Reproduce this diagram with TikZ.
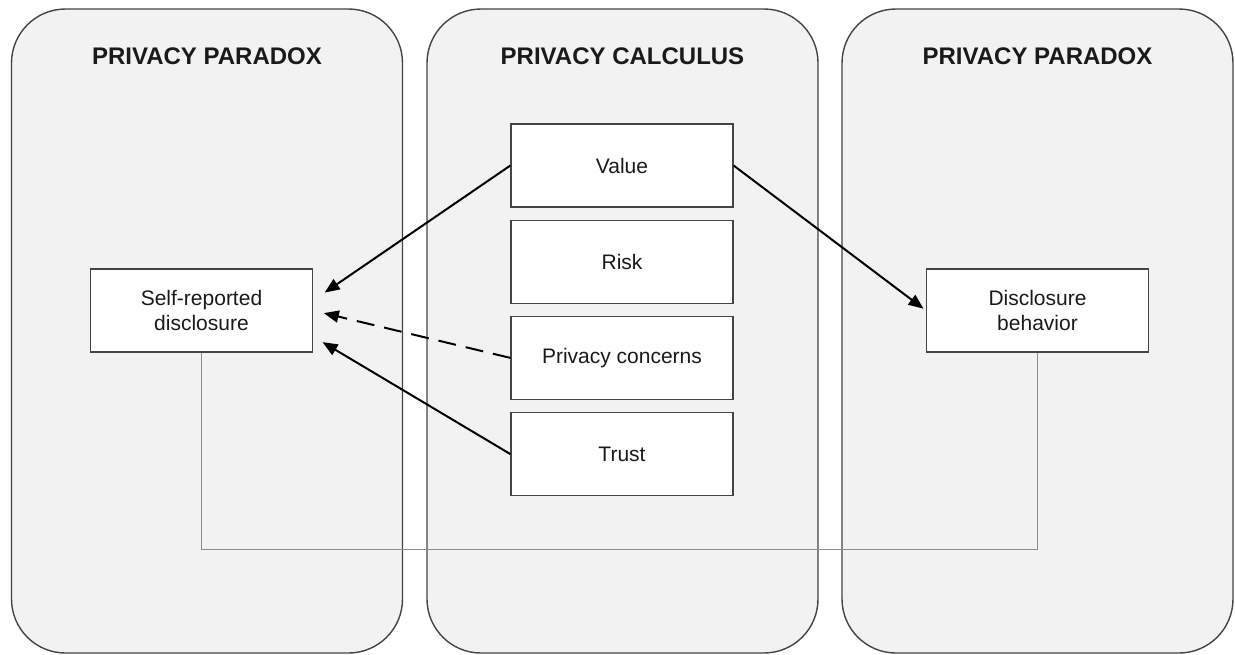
\documentclass[tikz,border=0pt]{standalone}
\usepackage{fontspec}
\setmainfont{Liberation Sans}
\usepackage{tikz}
\usetikzlibrary{
  arrows.meta,
  positioning,
  calc
}
\definecolor{FigText}{HTML}{1A1A1A}
\definecolor{FigPanel}{HTML}{F2F2F2}
\definecolor{FigBorder}{HTML}{444444}
\definecolor{FigLink}{HTML}{8C8C8C}

\begin{document}
\begin{tikzpicture}[
x=0.5pt, y=-0.5pt,
font=\fontsize{10.5}{12.5}\selectfont,
>={Triangle[length=7.5pt,width=6pt]},
panel/.style={
draw=FigBorder,
line width=0.7pt,
fill=FigPanel,
rounded corners=27pt,
minimum width=195.5pt,
minimum height=322pt,
inner sep=0pt
},
paneltitle/.style={
font=\fontsize{12}{14}\selectfont\bfseries
},
factorbox/.style={
draw=FigBorder,
line width=0.6pt,
fill=white,
minimum width=111pt,
minimum height=41.5pt,
inner sep=2pt,
align=center
},
arrowline/.style={
->,
line width=1pt
},
link/.style={
draw=FigLink,
line width=0.6pt
},
every node/.style={text=FigText}
]
\useasboundingbox (0,0) rectangle (1235,654);

% Panels
\node[panel] (pleft) at (207,331) {};
\node[panel] (pmid) at (622.5,331) {};
\node[panel] (pright) at (1037.5,331) {};

\node[paneltitle] (tleft) at (207,56) {PRIVACY PARADOX};
\node[paneltitle] (tmid) at (622.5,56) {PRIVACY CALCULUS};
\node[paneltitle] (tright) at (1037.5,56) {PRIVACY PARADOX};

% Privacy calculus factors
\node[factorbox] (value) at (622,165.5) {Value};
\node[factorbox, below=6pt of value] (risk) {Risk};
\node[factorbox, below=6pt of risk] (concerns) {Privacy concerns};
\node[factorbox, below=6pt of concerns] (trust) {Trust};

% Outcomes
\node[factorbox] (self) at (201.5,310.5) {Self-reported\\disclosure};
\node[factorbox] (disc) at (1037.5,310.5) {Disclosure\\behavior};

% Connectors
\draw[arrowline, shorten >=7pt] (value.west) -- ([yshift=5pt]self.east);
\draw[arrowline, dashed, dash pattern=on 9pt off 5pt, shorten >=5.5pt] (concerns.west) -- (self.east);
\draw[arrowline, shorten >=5.5pt] (trust.west) -- ([yshift=-13pt]self.east);
\draw[arrowline, shorten >=1.5pt] (value.east) -- (disc.west);

\draw[link] (self.south) -- ++(0,197) -| (disc.south);

\end{tikzpicture}
\end{document}
